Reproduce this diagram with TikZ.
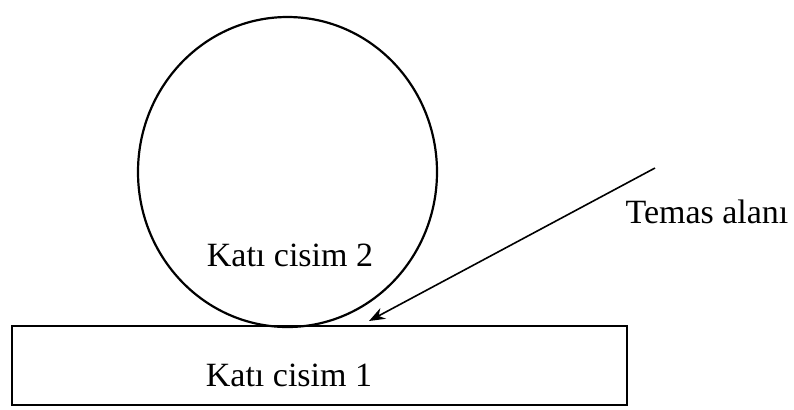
\documentclass[tikz,border=0pt]{standalone}
\usepackage{fontspec}
\setmainfont{Liberation Serif}
\usetikzlibrary{arrows.meta,shapes.geometric}
\begin{document}
\begin{tikzpicture}[x=0.5pt,y=-0.5pt, every node/.style={font=\fontsize{17}{20}\selectfont}]
  \tikzset{
    body/.style={draw,line width=1.1pt,inner sep=0pt},
    pointer/.style={line width=0.8pt,-{Stealth[length=8pt,width=6pt]}}
  }
  \useasboundingbox (0,0) rectangle (794,409);
  % solid body 1 (base block)
  \node[body,rectangle,minimum width=307.5pt,minimum height=39.5pt] (block) at (319.5,365.5) {};
  \node (blocklabel) at (289,375) {Katı cisim 1};
  % solid body 2 (sphere)
  \node[body,ellipse,minimum width=149.5pt,minimum height=155pt] (ball) at (287.5,172) {};
  \node (balllabel) at (290,255) {Katı cisim 2};
  % contact area
  \coordinate (contact) at (369,321);
  \coordinate (lead) at (655,168);
  \node (arealabel) at (707,212) {Temas alanı};
  \draw[pointer] (lead) -- (contact);
\end{tikzpicture}
\end{document}
